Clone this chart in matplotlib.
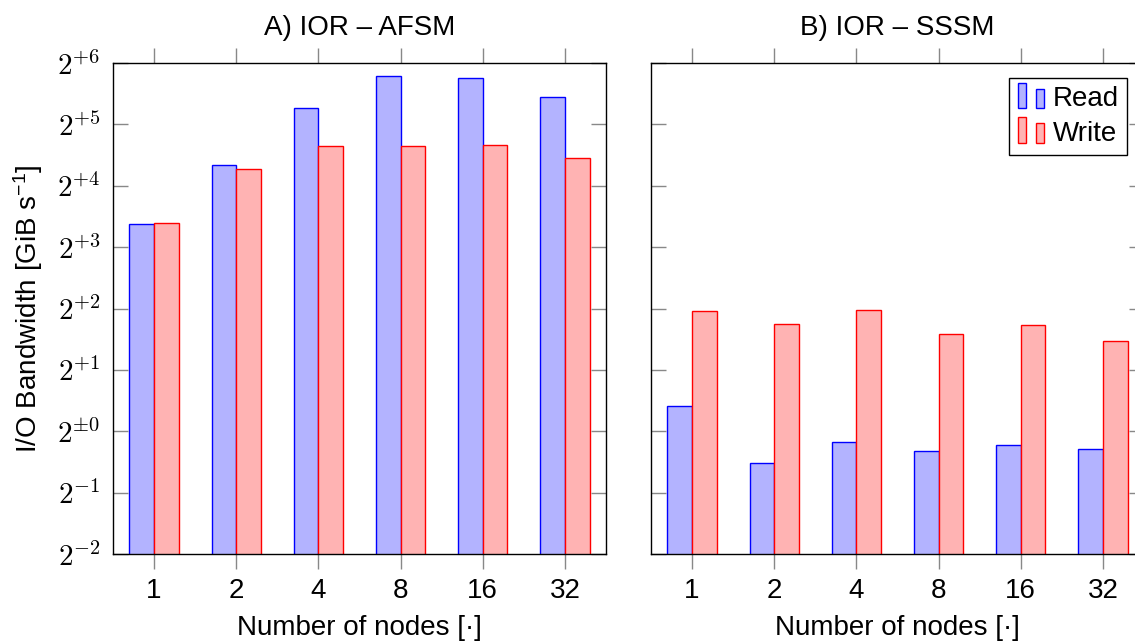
import numpy as np
import matplotlib
matplotlib.use("Agg")
import matplotlib.pyplot as plt
from matplotlib.patches import Rectangle
from matplotlib.legend_handler import HandlerBase

plt.rcParams['font.family'] = ['Liberation Sans', 'DejaVu Sans']
plt.rcParams['mathtext.fontset'] = 'cm'

# data (GiB/s)
nodes = ['1', '2', '4', '8', '16', '32']
afsm_read = [10.4, 20.3, 38.6, 55.3, 54.2, 43.6]
afsm_write = [10.5, 19.3, 25.0, 25.2, 25.3, 21.8]
sssm_read = [1.33, 0.70, 0.89, 0.80, 0.855, 0.82]
sssm_write = [3.89, 3.35, 3.92, 2.99, 3.32, 2.76]

ytick_exp = [-2, -1, 0, 1, 2, 3, 4, 5, 6]
ytick_labels = ['$2^{-2}$', '$2^{-1}$', r'$2^{\pm 0}$', '$2^{+1}$', '$2^{+2}$',
                '$2^{+3}$', '$2^{+4}$', '$2^{+5}$', '$2^{+6}$']

read_face, read_edge = '#b3b3ff', 'blue'
write_face, write_edge = '#ffb3b3', 'red'
fs = 20


class BarPairHandler(HandlerBase):
    # pgfplots style ybar legend: two little bars
    def create_artists(self, legend, orig_handle, xdescent, ydescent,
                       width, height, fontsize, trans):
        w = width * 0.32
        fc = orig_handle.get_facecolor()
        ec = orig_handle.get_edgecolor()
        r1 = Rectangle((-xdescent, -ydescent - 0.1 * height), w, height * 1.3,
                       facecolor=fc, edgecolor=ec, lw=1.0, transform=trans)
        r2 = Rectangle((-xdescent + width * 0.68, -ydescent - 0.1 * height), w, height * 1.0,
                       facecolor=fc, edgecolor=ec, lw=1.0, transform=trans)
        return [r1, r2]


fig = plt.figure(figsize=(11.35, 6.43), dpi=100)
W, H = 1135, 643
ax1 = fig.add_axes([113 / W, (H - 554) / H, 493 / W, 491 / H])
ax2 = fig.add_axes([651 / W, (H - 554) / H, 493 / W, 491 / H])

x = np.arange(len(nodes))
bw = 0.3

for ax, rd, wr, title in [(ax1, afsm_read, afsm_write, 'A) IOR – AFSM'),
                          (ax2, sssm_read, sssm_write, 'B) IOR – SSSM')]:
    ax.bar(x - bw / 2, rd, bw, facecolor=read_face, edgecolor=read_edge,
           lw=1.0, label='Read')
    ax.bar(x + bw / 2, wr, bw, facecolor=write_face, edgecolor=write_edge,
           lw=1.0, label='Write')
    ax.set_yscale('log', base=2)
    ax.set_ylim(2 ** -2, 2 ** 6)
    ax.set_xlim(-0.5, 5.5)
    ax.set_yticks([2.0 ** e for e in ytick_exp])
    ax.yaxis.set_minor_locator(matplotlib.ticker.NullLocator())
    ax.set_xticks(x)
    ax.set_xticklabels(nodes, fontsize=fs)
    ax.tick_params(axis='y', direction='in', length=11, width=1, color='#888888',
                   left=True, right=True, pad=9)
    ax.tick_params(axis='x', direction='out', length=11, width=1, color='#888888',
                   bottom=True, top=True, pad=6)
    for s in ax.spines.values():
        s.set_linewidth(1.0)
        s.set_color('black')
    ax.set_xlabel('Number of nodes [·]', fontsize=fs, labelpad=8)
    ax.set_title(title, fontsize=fs, pad=20)

ax1.set_yticklabels(ytick_labels, fontsize=21)
ax2.set_yticklabels([])
ax1.set_ylabel(r'I/O Bandwidth [GiB s$\mathregular{^{-1}}$]', fontsize=fs, labelpad=9)

handles = [Rectangle((0, 0), 1, 1, facecolor=read_face, edgecolor=read_edge),
           Rectangle((0, 0), 1, 1, facecolor=write_face, edgecolor=write_edge)]
leg = ax2.legend(handles, ['Read', 'Write'], loc='upper right',
                 bbox_to_anchor=(1127 / W, 1 - 78 / H), bbox_transform=fig.transFigure,
                 handler_map={Rectangle: BarPairHandler()}, fontsize=fs,
                 handlelength=0.95, handleheight=0.7, handletextpad=0.3,
                 labelspacing=0.3, borderpad=0.3, borderaxespad=0,
                 fancybox=False, framealpha=1, edgecolor='black')
leg.get_frame().set_linewidth(1.0)

fig.savefig('out.png', dpi=100)
